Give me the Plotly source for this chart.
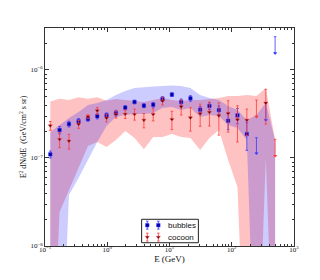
import plotly.graph_objects as go

# ---------------- data ----------------
energy = [0.1216, 0.1715, 0.2427, 0.346, 0.49, 0.691, 0.975, 1.379, 1.945, 2.742,
          3.88, 5.47, 7.72, 10.93, 15.41, 21.7, 31.1, 43.8, 62.1, 87.5,
          123.5, 174.7, 249.2, 352.4, 497.4]

# bubbles (measured points, first 22 bins)
bub_energy = energy[:22]
bub_val = [1.10e-7, 2.08e-7, 2.43e-7, 2.61e-7, 2.77e-7, 2.98e-7, 3.05e-7, 3.23e-7, 3.73e-7, 4.33e-7,
           3.93e-7, 4.03e-7, 4.68e-7, 5.25e-7, 4.33e-7, 4.76e-7, 3.54e-7, 3.90e-7, 3.50e-7, 2.65e-7,
           3.05e-7, 1.87e-7]
bub_err = [0.10e-7, 0.20e-7, 0.18e-7, 0.20e-7, 0.15e-7, 0.20e-7, 0.20e-7, 0.25e-7, 0.20e-7, 0.20e-7,
           0.20e-7, 0.25e-7, 0.30e-7, 0.25e-7, 0.35e-7, 0.35e-7, 0.30e-7, 0.35e-7, 0.40e-7, 0.55e-7,
           0.60e-7, 0.65e-7]
# bubbles upper limits
bub_ul_energy = [249.2, 352.4, 497.4]
bub_ul_top = [1.70e-7, 4.22e-7, 2.39e-6]
bub_ul_tip = [1.13e-7, 2.70e-7, 1.55e-6]

# cocoon (measured points)
coc_energy = energy[:22] + [352.4]
coc_val = [2.33e-7, 1.63e-7, 1.56e-7, 2.42e-7, 2.95e-7, 3.45e-7, 2.85e-7, 3.14e-7, 3.16e-7, 3.14e-7,
           2.70e-7, 3.14e-7, 4.45e-7, 2.75e-7, 3.83e-7, 2.87e-7, 3.19e-7, 3.31e-7, 3.02e-7, 3.22e-7,
           2.72e-7, 2.70e-7, 4.22e-7]
coc_err = [0.27e-7, 0.32e-7, 0.30e-7, 0.25e-7, 0.15e-7, 0.30e-7, 0.28e-7, 0.30e-7, 0.35e-7, 0.45e-7,
           0.50e-7, 0.50e-7, 0.45e-7, 0.65e-7, 0.75e-7, 0.85e-7, 0.90e-7, 1.00e-7, 1.20e-7, 1.25e-7,
           1.20e-7, 0.90e-7, 1.80e-7]
coc_ul_energy = [249.2, 497.4]
coc_ul_top = [4.56e-7, 1.63e-7]
coc_ul_tip = [2.95e-7, 1.06e-7]

# systematic bands
bub_band_hi = [1.975e-7, 2.37e-7, 2.85e-7, 3.33e-7, 4.0e-7, 4.22e-7, 4.56e-7, 5.2e-7, 5.77e-7, 6.23e-7,
               6.41e-7, 6.5e-7, 6.58e-7, 6.65e-7, 6.58e-7, 6.23e-7, 5.2e-7, 4.81e-7, 4.56e-7, 3.9e-7,
               3.51e-7, 2.7e-7, 3.08e-7, 4.22e-7, 1.6e-7]
bub_band_lo = [1e-10, 1e-10, 3.8e-8, 5.93e-8, 9.5e-8, 1.52e-7, 2.31e-7, 2.92e-7, 3.08e-7, 3.16e-7,
               3.16e-7, 3.25e-7, 3.7e-7, 3.8e-7, 3.51e-7, 3.7e-7, 2.92e-7, 3.08e-7, 3.0e-7, 2.37e-7,
               2.19e-7, 1.6e-7, 1e-10, 1e-10, 1e-10]
coc_band_hi = [4.37e-7, 4.72e-7, 4.56e-7, 4.9e-7, 4.72e-7, 4.9e-7, 4.48e-7, 4.68e-7, 4.56e-7, 4.45e-7,
               4.33e-7, 4.56e-7, 4.81e-7, 4.56e-7, 4.45e-7, 4.56e-7, 4.56e-7, 4.68e-7, 4.81e-7, 5.07e-7,
               5.07e-7, 5.2e-7, 5.07e-7, 6.23e-7, 1.6e-7]
coc_band_lo = [1e-10, 2.43e-8, 4.33e-8, 7.7e-8, 1.37e-7, 1.52e-7, 1.33e-7, 1.6e-7, 2.03e-7, 1.69e-7,
               1.26e-7, 1.73e-7, 1.73e-7, 1.87e-7, 1.73e-7, 1.69e-7, 1.23e-7, 1.69e-7, 2.08e-7, 9.5e-8,
               4.68e-8, 1e-10, 1e-10, 1e-7, 1e-10]

x_tickvals = [0.1, 1, 10, 100, 1000]
x_ticktext = ["10<sup>−1</sup>", "10<sup>0</sup>", "10<sup>1</sup>", "10<sup>2</sup>", "10<sup>3</sup>"]
y_tickvals = [1e-8, 1e-7, 1e-6]
y_ticktext = ["10<sup>−8</sup>", "10<sup>−7</sup>", "10<sup>−6</sup>"]
series_names = ["bubbles", "cocoon"]

BLUE_BAR = "#3a3aff"
BLUE_MK = "#0000a0"
RED_BAR = "#ff3a3a"
RED_MK = "#500000"
MK = 3.5
EB = dict(thickness=0.8, width=1.3)

fig = go.Figure()

# bands
fig.add_trace(go.Scatter(x=energy + energy[::-1], y=coc_band_hi + coc_band_lo[::-1],
                         fill="toself", fillcolor="rgba(255,0,0,0.24)", mode="lines",
                         line=dict(width=0), hoverinfo="skip", showlegend=False))
fig.add_trace(go.Scatter(x=energy + energy[::-1], y=bub_band_hi + bub_band_lo[::-1],
                         fill="toself", fillcolor="rgba(0,0,255,0.2)", mode="lines",
                         line=dict(width=0), hoverinfo="skip", showlegend=False))

# bubbles points
fig.add_trace(go.Scatter(x=bub_energy, y=bub_val, mode="markers",
                         marker=dict(symbol="square", size=MK, color=BLUE_MK,
                                     line=dict(color=BLUE_BAR, width=0.5)),
                         error_y=dict(type="data", array=bub_err, color=BLUE_BAR, **EB),
                         showlegend=False))
fig.add_trace(go.Scatter(x=bub_ul_energy, y=bub_ul_tip, mode="markers",
                         marker=dict(symbol="triangle-down", size=3.5, color=BLUE_BAR),
                         error_y=dict(type="data", symmetric=False,
                                      array=[t - b for t, b in zip(bub_ul_top, bub_ul_tip)],
                                      arrayminus=[0] * len(bub_ul_tip),
                                      color=BLUE_BAR, **EB),
                         showlegend=False))

# cocoon points
fig.add_trace(go.Scatter(x=coc_energy, y=coc_val, mode="markers",
                         marker=dict(symbol="triangle-down", size=MK, color=RED_MK,
                                     line=dict(color=RED_BAR, width=0.5)),
                         error_y=dict(type="data", array=coc_err, color=RED_BAR, **EB),
                         showlegend=False))
fig.add_trace(go.Scatter(x=coc_ul_energy, y=coc_ul_tip, mode="markers",
                         marker=dict(symbol="triangle-down", size=3.5, color=RED_BAR),
                         error_y=dict(type="data", symmetric=False,
                                      array=[t - b for t, b in zip(coc_ul_top, coc_ul_tip)],
                                      arrayminus=[0] * len(coc_ul_tip),
                                      color=RED_BAR, **EB),
                         showlegend=False))

# custom legend (two markers with error bars per entry, like matplotlib)
leg_x0, leg_x1, leg_y0, leg_y1 = 0.388, 0.616, 0.015, 0.1225
fig.add_trace(go.Scatter(x=[0.10, 0.295], y=[0.75, 0.75], mode="markers", xaxis="x2", yaxis="y2",
                         marker=dict(symbol="square", size=MK, color=BLUE_MK, line=dict(color=BLUE_BAR, width=0.5)),
                         error_y=dict(type="data", array=[0.17, 0.17], color=BLUE_BAR, **EB),
                         showlegend=False, hoverinfo="skip"))
fig.add_trace(go.Scatter(x=[0.10, 0.295], y=[0.24, 0.24], mode="markers", xaxis="x2", yaxis="y2",
                         marker=dict(symbol="triangle-down", size=MK, color=RED_MK, line=dict(color=RED_BAR, width=0.5)),
                         error_y=dict(type="data", array=[0.17, 0.17], color=RED_BAR, **EB),
                         showlegend=False, hoverinfo="skip"))

fig.add_shape(type="rect", xref="paper", yref="paper", x0=leg_x0, x1=leg_x1, y0=leg_y0, y1=leg_y1,
              line=dict(color="#222", width=1), fillcolor="rgba(255,255,255,0)", layer="above")
for name, yy in zip(series_names, [0.0963, 0.040]):
    fig.add_annotation(x=0.487, y=yy, xref="paper", yref="paper", text=name, showarrow=False,
                       xanchor="left", yanchor="middle",
                       font=dict(family="Liberation Sans, Arial", size=8, color="#111"))

serif = "Liberation Serif, Times New Roman, serif"
axis_common = dict(showline=True, linecolor="#333", linewidth=1, mirror="allticks",
                   ticks="inside", ticklen=4, tickwidth=0.8, tickcolor="#333",
                   showgrid=False, zeroline=False,
                   tickfont=dict(family=serif, size=7, color="#111"))

minor_x = [m * 10 ** e for e in [-1, 0, 1, 2] for m in range(2, 10)]
minor_y = [m * 10 ** e for e in [-8, -7] for m in range(2, 10)] + [2e-6]

# the page body has an 8px margin, so the figure is offset by 8px; sizes compensate for that
fig.update_layout(
    width=304, height=264,
    margin=dict(l=37, r=18, t=20, b=26),
    paper_bgcolor="white", plot_bgcolor="white",
    showlegend=False,
    xaxis=dict(type="log", range=[-1, 3], tickvals=x_tickvals, ticktext=x_ticktext,
               minor=dict(ticks="inside", ticklen=2, tickwidth=0.6, tickcolor="#333", tickvals=minor_x),
               title=dict(text="E (GeV)", font=dict(family=serif, size=9, color="#111"), standoff=0),
               **axis_common),
    yaxis=dict(type="log", range=[-8, -5.523], tickvals=y_tickvals, ticktext=y_ticktext,
               minor=dict(ticks="inside", ticklen=2, tickwidth=0.6, tickcolor="#333", tickvals=minor_y),
               title=dict(text="E<sup>2</sup> dN/dE  (GeV/cm<sup>2</sup> s sr)",
                          font=dict(family=serif, size=8, color="#111"), standoff=2),
               **axis_common),
    xaxis2=dict(domain=[leg_x0, leg_x1], range=[0, 1], visible=False, anchor="y2", fixedrange=True),
    yaxis2=dict(domain=[leg_y0, leg_y1], range=[0, 1], visible=False, anchor="x2", fixedrange=True),
)

try:
    fig.update_xaxes(ticklabelstandoff=-3, selector=dict(type="log"))
except Exception:
    pass

fig.write_html("out.html")
